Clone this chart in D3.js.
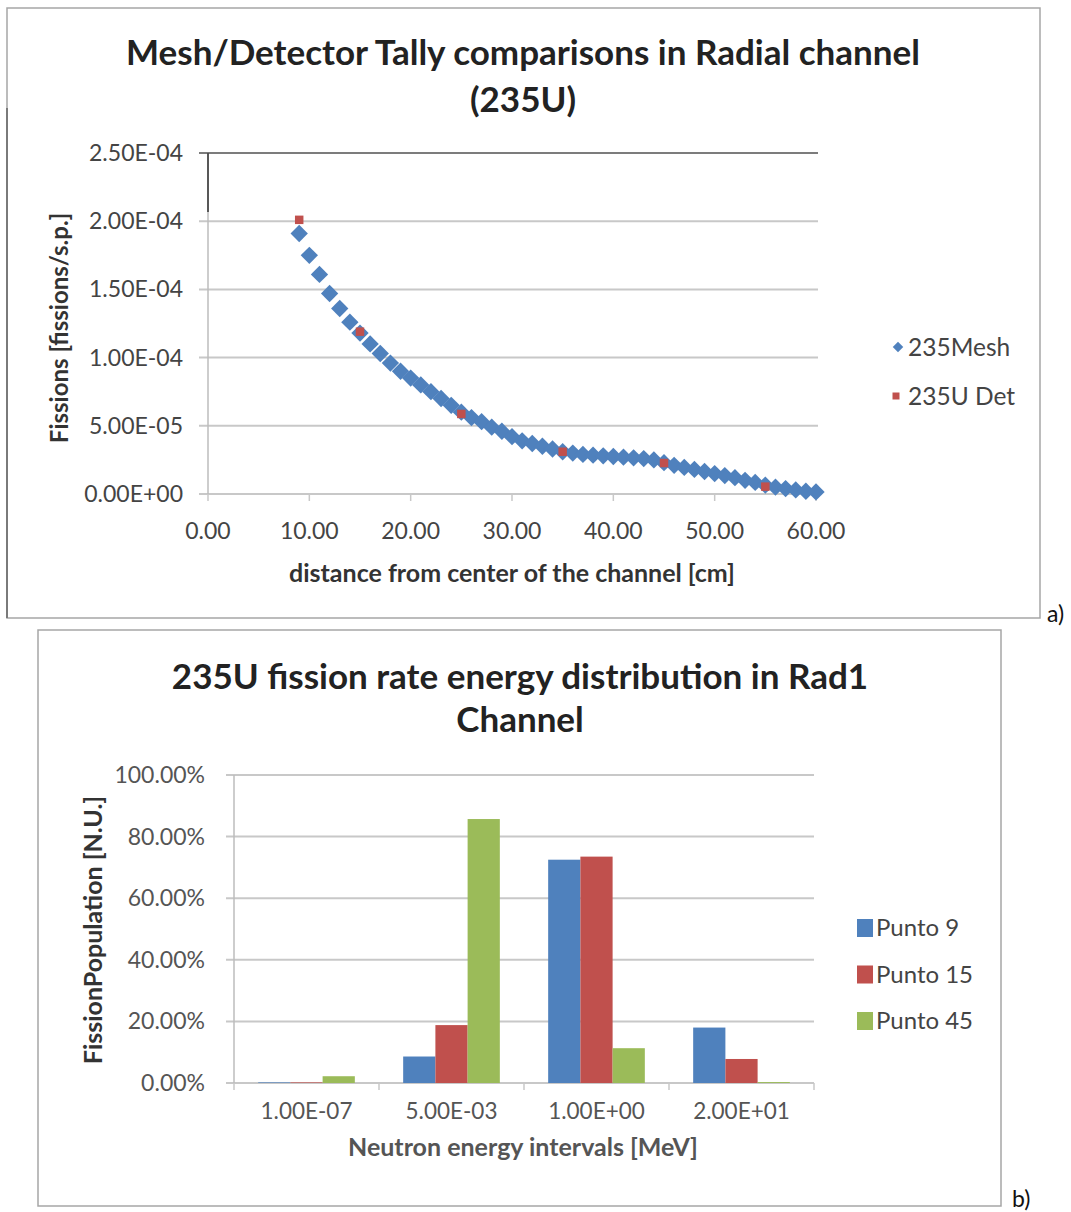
<!DOCTYPE html>
<html><head><meta charset="utf-8">
<script src="https://cdn.jsdelivr.net/npm/d3@7"></script>
<style>
body{margin:0;background:#fff}
svg{display:block}
text{font-family:Lato,'Open Sans',sans-serif}
</style>
</head><body>
<svg id="c" width="1071" height="1212"></svg>
<script>
// ---------- Chart a) data ----------
const meshX = [9,10,11,12,13,14,15,16,17,18,19,20,21,22,23,24,25,26,27,28,29,30,31,32,33,34,35,36,37,38,39,40,41,42,43,44,45,46,47,48,49,50,51,52,53,54,55,56,57,58,59,60];
const meshY = [1.91e-4,1.75e-4,1.61e-4,1.47e-4,1.36e-4,1.26e-4,1.18e-4,1.10e-4,1.03e-4,9.6e-5,9.0e-5,8.5e-5,8.0e-5,7.5e-5,7.0e-5,6.5e-5,6.0e-5,5.6e-5,5.3e-5,4.9e-5,4.6e-5,4.2e-5,3.9e-5,3.7e-5,3.5e-5,3.3e-5,3.1e-5,3.0e-5,2.9e-5,2.85e-5,2.8e-5,2.75e-5,2.7e-5,2.65e-5,2.6e-5,2.5e-5,2.3e-5,2.1e-5,1.95e-5,1.8e-5,1.65e-5,1.5e-5,1.35e-5,1.2e-5,1.0e-5,8.5e-6,6.5e-6,5.0e-6,4.0e-6,3.0e-6,2.0e-6,1.5e-6];
const detX = [9,15,25,35,45,55];
const detY = [2.01e-4,1.19e-4,5.87e-5,3.1e-5,2.27e-5,5.4e-6];
const xTicksA = [0,10,20,30,40,50,60];
const yTicksA = [0,5e-5,1e-4,1.5e-4,2e-4,2.5e-4];
const legendA = ["235Mesh","235U Det"];

// ---------- Chart b) data ----------
const categories = ["1.00E-07","5.00E-03","1.00E+00","2.00E+01"];
const seriesNames = ["Punto 9","Punto 15","Punto 45"];
const punto9  = [0.002,0.086,0.725,0.180];
const punto15 = [0.002,0.188,0.735,0.078];
const punto45 = [0.022,0.857,0.113,0.003];
const yTicksB = [0,0.2,0.4,0.6,0.8,1.0];

const BLUE="#4F81BD", RED="#C0504D", GREEN="#9BBB59";
const svg = d3.select("#c");

function sci(v){
  let [m,e] = v.toExponential(2).split("e");
  const s = e[0]==="-" ? "-" : "+";
  return m+"E"+s+String(Math.abs(+e)).padStart(2,"0");
}

// ================= Chart a =================
const ga = svg.append("g");
ga.append("rect").attr("x",7).attr("y",8).attr("width",1033).attr("height",610)
  .attr("fill","none").attr("stroke","#a6a6a6").attr("stroke-width",1.5);
ga.append("line").attr("x1",7).attr("x2",7).attr("y1",108).attr("y2",618)
  .attr("stroke","#7a7a7a").attr("stroke-width",2);
ga.append("text").attr("x",1047).attr("y",622).attr("font-size",23).attr("fill","#111").text("a)");

const xa = d3.scaleLinear().domain([0,60]).range([208,816]);
const ya = d3.scaleLinear().domain([0,2.5e-4]).range([494,153]);

// gridlines
ga.append("g").selectAll("line").data(yTicksA).join("line")
  .attr("x1",199).attr("x2",818).attr("y1",d=>ya(d)).attr("y2",d=>ya(d))
  .attr("stroke",d=>d===2.5e-4?"#505050":"#c8c8c8").attr("stroke-width",d=>d===2.5e-4?1.5:2);
// y axis line
ga.append("line").attr("x1",208).attr("x2",208).attr("y1",ya(2.5e-4)).attr("y2",494)
  .attr("stroke","#bdbdbd").attr("stroke-width",1.5);
ga.append("line").attr("x1",208).attr("x2",208).attr("y1",ya(2.5e-4)).attr("y2",212)
  .attr("stroke","#303030").attr("stroke-width",1.5);
// x axis ticks
ga.append("g").selectAll("line").data(xTicksA).join("line")
  .attr("x1",d=>xa(d)).attr("x2",d=>xa(d)).attr("y1",494).attr("y2",501)
  .attr("stroke","#c8c8c8").attr("stroke-width",1.5);
// tick labels
ga.append("g").selectAll("text").data(yTicksA).join("text")
  .attr("x",183).attr("y",d=>ya(d)).attr("dy","0.35em").attr("text-anchor","end")
  .attr("font-size",23).attr("fill","#444").text(sci);
ga.append("g").selectAll("text").data(xTicksA).join("text")
  .attr("x",d=>xa(d)).attr("y",531).attr("dy","0.35em").attr("text-anchor","middle")
  .attr("font-size",23).attr("fill","#444").text(d3.format(".2f"));

// titles
ga.append("text").attr("x",523).attr("y",53).attr("dy","0.35em").attr("text-anchor","middle")
  .attr("font-size",35).attr("font-weight","bold").attr("fill","#222")
  .text("Mesh/Detector Tally comparisons in Radial channel");
ga.append("text").attr("x",523).attr("y",100).attr("dy","0.35em").attr("text-anchor","middle")
  .attr("font-size",35).attr("font-weight","bold").attr("fill","#222").text("(235U)");
ga.append("text").attr("x",512).attr("y",573).attr("dy","0.35em").attr("text-anchor","middle")
  .attr("font-size",25).attr("font-weight","bold").attr("fill","#333")
  .text("distance from center of the channel [cm]");
ga.append("text").attr("transform","translate(60,328) rotate(-90)").attr("dy","0.35em")
  .attr("text-anchor","middle").attr("font-size",24).attr("font-weight","bold").attr("fill","#333")
  .text("Fissions [fissions/s.p.]");

// markers
const diamond = d3.symbol(d3.symbolSquare, 150)();
ga.append("g").selectAll("path").data(meshX.map((x,i)=>[x,meshY[i]])).join("path")
  .attr("d",diamond).attr("transform",d=>`translate(${xa(d[0])},${ya(d[1])}) rotate(45)`)
  .attr("fill",BLUE);
const sq = d3.symbol(d3.symbolSquare, 72)();
ga.append("g").selectAll("path").data(detX.map((x,i)=>[x,detY[i]])).join("path")
  .attr("d",sq).attr("transform",d=>`translate(${xa(d[0])},${ya(d[1])})`)
  .attr("fill",RED);

// legend a
const la = ga.append("g");
la.append("path").attr("d",d3.symbol(d3.symbolSquare,55)()).attr("transform","translate(898,347) rotate(45)").attr("fill",BLUE);
la.append("path").attr("d",d3.symbol(d3.symbolSquare,49)()).attr("transform","translate(896,396)").attr("fill",RED);
la.selectAll("text").data(legendA).join("text")
  .attr("x",908).attr("y",(d,i)=>347+i*49).attr("dy","0.35em")
  .attr("font-size",24.5).attr("fill","#444").text(d=>d);

// ================= Chart b =================
const gb = svg.append("g");
gb.append("rect").attr("x",38).attr("y",630).attr("width",963).attr("height",576)
  .attr("fill","none").attr("stroke","#a6a6a6").attr("stroke-width",1.5);
gb.append("text").attr("x",1012).attr("y",1207).attr("font-size",23).attr("fill","#111").text("b)");

const x0 = d3.scaleBand().domain(categories).range([234,814]).padding(0);
const bw = x0.bandwidth()/4.5;
const x1 = d3.scaleBand().domain(seriesNames)
  .range([(x0.bandwidth()-3*bw)/2,(x0.bandwidth()+3*bw)/2]).padding(0);
const yb = d3.scaleLinear().domain([0,1]).range([1083,775]);

gb.append("g").selectAll("line").data(yTicksB).join("line")
  .attr("x1",226).attr("x2",814).attr("y1",d=>yb(d)).attr("y2",d=>yb(d))
  .attr("stroke","#c8c8c8").attr("stroke-width",2);
gb.append("line").attr("x1",234).attr("x2",234).attr("y1",775).attr("y2",1083)
  .attr("stroke","#bdbdbd").attr("stroke-width",1.5);
const bounds = categories.map(c=>x0(c)).concat([x0.range()[1]]);
gb.append("g").selectAll("line").data(bounds).join("line")
  .attr("x1",d=>d).attr("x2",d=>d).attr("y1",1083).attr("y2",1090)
  .attr("stroke","#c8c8c8").attr("stroke-width",1.5);

gb.append("g").selectAll("text").data(yTicksB).join("text")
  .attr("x",205).attr("y",d=>yb(d)).attr("dy","0.35em").attr("text-anchor","end")
  .attr("font-size",23).attr("fill","#555").text(d3.format(".2%"));
gb.append("g").selectAll("text").data(categories).join("text")
  .attr("x",d=>x0(d)+x0.bandwidth()/2).attr("y",1111).attr("dy","0.35em").attr("text-anchor","middle")
  .attr("font-size",22.5).attr("fill","#555").text(d=>d);

const seriesVals = [punto9,punto15,punto45];
const colors = [BLUE,RED,GREEN];
seriesNames.forEach((s,si)=>{
  gb.append("g").selectAll("rect").data(categories).join("rect")
    .attr("x",c=>x0(c)+x1(s)).attr("width",x1.bandwidth())
    .attr("y",(c,ci)=>yb(seriesVals[si][ci])).attr("height",(c,ci)=>yb(0)-yb(seriesVals[si][ci]))
    .attr("fill",colors[si]);
});

gb.append("text").attr("x",520).attr("y",677).attr("dy","0.35em").attr("text-anchor","middle")
  .attr("font-size",35).attr("font-weight","bold").attr("fill","#222")
  .text("235U fission rate energy distribution in Rad1");
gb.append("text").attr("x",520).attr("y",720).attr("dy","0.35em").attr("text-anchor","middle")
  .attr("font-size",35).attr("font-weight","bold").attr("fill","#222").text("Channel");
gb.append("text").attr("x",523).attr("y",1147).attr("dy","0.35em").attr("text-anchor","middle")
  .attr("font-size",25).attr("font-weight","bold").attr("fill","#555")
  .text("Neutron energy intervals [MeV]");
gb.append("text").attr("transform","translate(93,930) rotate(-90)").attr("dy","0.35em")
  .attr("text-anchor","middle").attr("font-size",25).attr("font-weight","bold").attr("fill","#333")
  .text("FissionPopulation [N.U.]");

const lb = gb.append("g");
seriesNames.forEach((s,i)=>{
  const y = 928 + i*46.5;
  lb.append("rect").attr("x",857).attr("y",y-9).attr("width",16).attr("height",18).attr("fill",colors[i]);
  lb.append("text").attr("x",876).attr("y",y).attr("dy","0.35em").attr("font-size",24).attr("fill","#444").text(s);
});
</script>
</body></html>
